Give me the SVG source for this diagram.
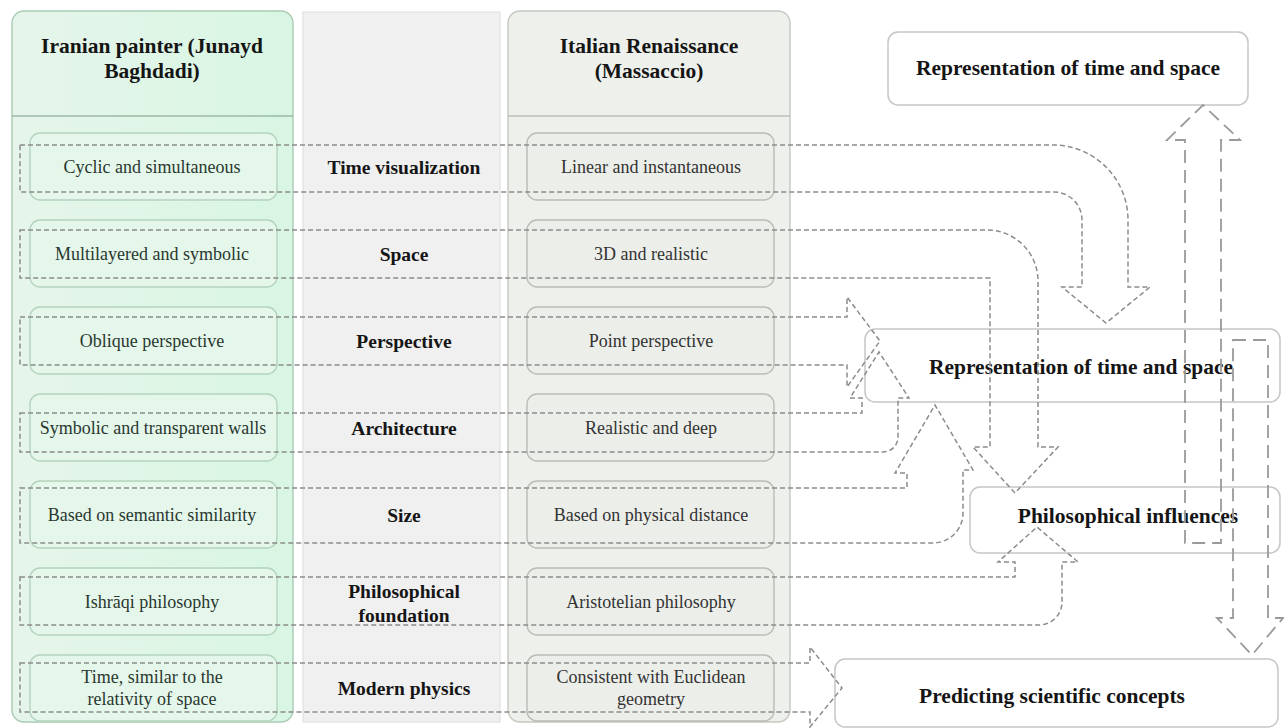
<svg xmlns="http://www.w3.org/2000/svg" width="1284" height="728" viewBox="0 0 1284 728">
<defs>
<style>
.hdr{font-family:"Liberation Serif","Times New Roman",serif;font-weight:bold;font-size:21.5px;fill:#151515;text-anchor:middle}
.crit{font-family:"Liberation Serif","Times New Roman",serif;font-weight:bold;font-size:19.5px;fill:#151515;text-anchor:middle}
.lbl{font-family:"Liberation Serif","Times New Roman",serif;font-size:18px;text-anchor:middle}
.lblL{fill:#2a3830}
.lblR{fill:#333333}
.boxL{fill:#e4f7ea;stroke:#b4d3be;stroke-width:1.4}
.boxR{fill:#eceee9;stroke:#b9bdb6;stroke-width:1.4}
.outbox{fill:#ffffff;stroke:#c6c6c6;stroke-width:1.5}
.conn{fill:none;stroke:#8c8c8c;stroke-width:1.5;stroke-dasharray:5 3}
.conn2{fill:none;stroke:#9a9a9a;stroke-width:1.8;stroke-dasharray:13 7}
</style>
<linearGradient id="gL" x1="0" y1="0" x2="1" y2="0">
<stop offset="0" stop-color="#e6f5eb"/>
<stop offset="1" stop-color="#d8f6e3"/>
</linearGradient>
</defs>
<rect width="1284" height="728" fill="#ffffff"/>

<g id="col-iranian">
<rect x="12" y="11" width="281" height="711" rx="12" fill="url(#gL)" stroke="#a9cbb4" stroke-width="1.4"/>
<line x1="12" y1="116" x2="293" y2="116" stroke="#7d9a87" stroke-width="1.2"/>
<text class="hdr" x="152" y="53">Iranian painter (Junayd</text>
<text class="hdr" x="152" y="78">Baghdadi)</text>
</g>
<g id="col-criteria">
<rect x="303" y="12" width="197" height="710" fill="#f0f0f0" stroke="#e0e0e8" stroke-width="1.2"/>
</g>
<g id="col-italian">
<rect x="508" y="11" width="282" height="711" rx="12" fill="#eef0ec" stroke="#c4c8c1" stroke-width="1.4"/>
<line x1="508" y1="116" x2="790" y2="116" stroke="#a3a89f" stroke-width="1.2"/>
<text class="hdr" x="649" y="53">Italian Renaissance</text>
<text class="hdr" x="649" y="78">(Massaccio)</text>
</g>

<g id="row1">
<g id="iran-time"><rect class="boxL" x="30" y="133" width="247" height="67" rx="10"/><text class="lbl lblL" x="152" y="173">Cyclic and simultaneous</text></g>
<g id="crit-time"><text class="crit" x="404" y="174">Time visualization</text></g>
<g id="ital-time"><rect class="boxR" x="527" y="133" width="247" height="67" rx="10"/><text class="lbl lblR" x="651" y="173">Linear and instantaneous</text></g>
</g>
<g id="row2">
<g id="iran-space"><rect class="boxL" x="30" y="220" width="247" height="67" rx="10"/><text class="lbl lblL" x="152" y="260">Multilayered and symbolic</text></g>
<g id="crit-space"><text class="crit" x="404" y="261">Space</text></g>
<g id="ital-space"><rect class="boxR" x="527" y="220" width="247" height="67" rx="10"/><text class="lbl lblR" x="651" y="260">3D and realistic</text></g>
</g>
<g id="row3">
<g id="iran-persp"><rect class="boxL" x="30" y="307" width="247" height="67" rx="10"/><text class="lbl lblL" x="152" y="347">Oblique perspective</text></g>
<g id="crit-persp"><text class="crit" x="404" y="348">Perspective</text></g>
<g id="ital-persp"><rect class="boxR" x="527" y="307" width="247" height="67" rx="10"/><text class="lbl lblR" x="651" y="347">Point perspective</text></g>
</g>
<g id="row4">
<g id="iran-arch"><rect class="boxL" x="30" y="394" width="247" height="67" rx="10"/><text class="lbl lblL" x="153" y="434">Symbolic and transparent walls</text></g>
<g id="crit-arch"><text class="crit" x="404" y="435">Architecture</text></g>
<g id="ital-arch"><rect class="boxR" x="527" y="394" width="247" height="67" rx="10"/><text class="lbl lblR" x="651" y="434">Realistic and deep</text></g>
</g>
<g id="row5">
<g id="iran-size"><rect class="boxL" x="30" y="481" width="247" height="67" rx="10"/><text class="lbl lblL" x="152" y="521">Based on semantic similarity</text></g>
<g id="crit-size"><text class="crit" x="404" y="522">Size</text></g>
<g id="ital-size"><rect class="boxR" x="527" y="481" width="247" height="67" rx="10"/><text class="lbl lblR" x="651" y="521">Based on physical distance</text></g>
</g>
<g id="row6">
<g id="iran-phil"><rect class="boxL" x="30" y="568" width="247" height="67" rx="10"/><text class="lbl lblL" x="152" y="608">Ishrāqi philosophy</text></g>
<g id="crit-phil"><text class="crit" x="404" y="598">Philosophical</text><text class="crit" x="404" y="622">foundation</text></g>
<g id="ital-phil"><rect class="boxR" x="527" y="568" width="247" height="67" rx="10"/><text class="lbl lblR" x="651" y="608">Aristotelian philosophy</text></g>
</g>
<g id="row7">
<g id="iran-phys"><rect class="boxL" x="30" y="655" width="247" height="66" rx="10"/><text class="lbl lblL" x="152" y="683">Time, similar to the</text><text class="lbl lblL" x="152" y="705">relativity of space</text></g>
<g id="crit-phys"><text class="crit" x="404" y="695">Modern physics</text></g>
<g id="ital-phys"><rect class="boxR" x="527" y="655" width="247" height="66" rx="10"/><text class="lbl lblR" x="651" y="683">Consistent with Euclidean</text><text class="lbl lblR" x="651" y="705">geometry</text></g>
</g>

<g id="out-rep-top"><rect class="outbox" x="888" y="32" width="360" height="73" rx="10"/><text class="hdr" x="1068" y="75">Representation of time and space</text></g>
<g id="out-rep-mid"><rect class="outbox" x="865" y="329" width="415" height="73" rx="10"/><text class="hdr" x="1081" y="374">Representation of time and space</text></g>
<g id="out-phil"><rect class="outbox" x="970" y="487" width="310" height="66" rx="10"/><text class="hdr" x="1128" y="523">Philosophical influences</text></g>
<g id="out-predict"><rect class="outbox" x="835" y="659" width="443" height="68" rx="10"/><text class="hdr" x="1052" y="703">Predicting scientific concepts</text></g>

<g id="connectors">
<path class="conn" d="M20,145 H1053 A75,75 0 0 1 1128,220 V287 H1150 L1106,323 L1062,287 H1082 V220 A28,28 0 0 0 1054,192 H20 Z"/>
<path class="conn" d="M20,230 H987 A51,51 0 0 1 1038,281 V447 H1058 L1015,493 L973,447 H990 V278 H20 Z"/>
<path class="conn" d="M20,317 H847 V297 L880,341 L847,387 V365 H20 Z"/>
<path class="conn" d="M20,413 H862 V398 H850 L879,352 L909,398 H898 V437 A15,15 0 0 1 883,452 H20 Z"/>
<path class="conn" d="M20,488 H907 V473 H895 L935,405 L973,470 H963 V513 A30,30 0 0 1 933,543 H20 Z"/>
<path class="conn" d="M20,577 H1015 V562 H998 L1037,527 L1078,562 H1062 V602 A23,23 0 0 1 1039,625 H20 Z"/>
<path class="conn" d="M20,663 H810 V647 L842,688 L810,727 V712 H20 Z"/>
<path class="conn2" d="M1185,543 V140 H1167 L1203,105 L1240,140 H1221 V543 Z"/>
<path class="conn2" d="M1233,340 H1268 V618 H1283 L1252,655 L1217,618 H1233 Z"/>
</g>
</svg>
